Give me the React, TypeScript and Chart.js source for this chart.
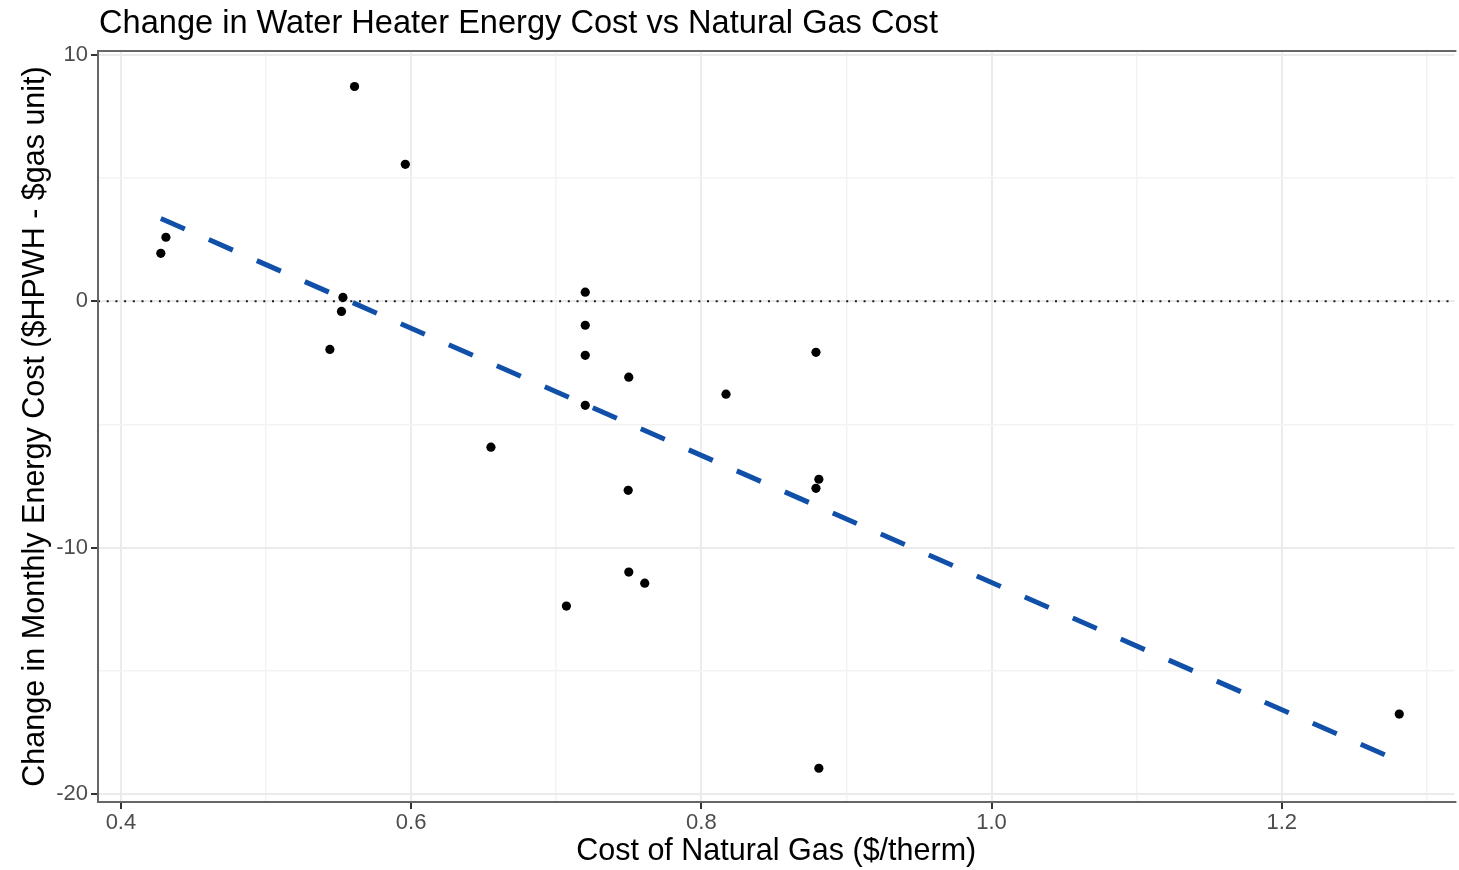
import React, { useEffect, useRef } from "react";
import { Chart, registerables } from "chart.js";

Chart.register(...registerables);

// Natural gas price ($/therm) and monthly cost change for each site
const gasCost = [
  0.4275, 0.431, 0.561, 0.596, 0.553, 0.552, 0.544, 0.655, 0.72, 0.72, 0.72, 0.72,
  0.75, 0.7496, 0.75, 0.761, 0.707, 0.817, 0.879, 0.881, 0.879, 0.881, 1.281,
];
const costChange = [
  1.95, 2.6, 8.72, 5.56, 0.16, -0.41, -1.95, -5.92, 0.37, -0.97, -2.19, -4.22,
  -3.08, -7.67, -10.99, -11.44, -12.37, -3.77, -2.07, -7.22, -7.59, -18.95, -16.75,
];

// Linear fit endpoints
const fitX = [0.4275, 1.281];
const fitY = [3.36, -18.66];

// Axis ticks and limits
const xMajorTicks = [0.4, 0.6, 0.8, 1.0, 1.2];
const xMinorTicks = [0.5, 0.7, 0.9, 1.1, 1.3];
const yMajorTicks = [-20, -10, 0, 10];
const yMinorTicks = [-15, -5, 5];
const xLimits = [0.3842, 1.319];
const yLimits = [-20.32, 10.16];
const referenceY = 0;

const TITLE = "Change in Water Heater Energy Cost vs Natural Gas Cost";
const X_TITLE = "Cost of Natural Gas ($/therm)";
const Y_TITLE = "Change in Monthly Energy Cost ($HPWH - $gas unit)";

const FONT = "'Liberation Sans', Arial, Helvetica, sans-serif";

const isMajor = (list: number[], v: number) => list.some((m) => Math.abs(m - v) < 1e-9);

const panelPlugin = {
  id: "panel",
  beforeDatasetsDraw(chart: any) {
    const { ctx, chartArea: a, scales } = chart;
    const py = scales.y.getPixelForValue(referenceY);
    ctx.save();
    ctx.beginPath();
    ctx.setLineDash([2, 6.7]);
    ctx.lineWidth = 2;
    ctx.strokeStyle = "#1a1a1a";
    ctx.moveTo(a.left, py);
    ctx.lineTo(a.right, py);
    ctx.stroke();
    ctx.restore();
  },
  afterDraw(chart: any) {
    const { ctx, chartArea: a } = chart;
    ctx.save();
    // panel border
    ctx.strokeStyle = "#666666";
    ctx.lineWidth = 2;
    ctx.beginPath();
    ctx.moveTo(a.right + 2, a.top);
    ctx.lineTo(a.left, a.top);
    ctx.lineTo(a.left, a.bottom);
    ctx.lineTo(a.right + 2, a.bottom);
    ctx.stroke();
    // plot title
    ctx.fillStyle = "#000000";
    ctx.font = `32.6px ${FONT}`;
    ctx.textAlign = "left";
    ctx.textBaseline = "alphabetic";
    ctx.fillText(TITLE, 99, 32.5);
    ctx.restore();
  },
};

export default function App() {
  const canvasRef = useRef<HTMLCanvasElement | null>(null);

  useEffect(() => {
    const canvas = canvasRef.current;
    if (!canvas) return;

    const points = gasCost.map((x, i) => ({ x, y: costChange[i] }));
    const fit = fitX.map((x, i) => ({ x, y: fitY[i] }));

    const gridColor = (major: number[]) => (c: any) =>
      isMajor(major, c.tick?.value) ? "#ebebeb" : "#f3f3f3";
    const gridWidth = (major: number[]) => (c: any) =>
      isMajor(major, c.tick?.value) ? 2 : 1.5;
    const tickColor = (major: number[]) => (c: any) =>
      isMajor(major, c.tick?.value) ? "#333333" : "rgba(0,0,0,0)";

    const chart = new Chart(canvas, {
      type: "scatter",
      data: {
        datasets: [
          {
            label: "fit",
            data: fit,
            showLine: true,
            borderColor: "#1150a8",
            borderWidth: 5,
            borderDash: [26.2, 26.2],
            borderCapStyle: "butt",
            pointRadius: 0,
            order: 0,
          } as any,
          {
            label: "sites",
            data: points,
            pointRadius: 4.6,
            pointHoverRadius: 4.6,
            backgroundColor: "#000000",
            borderWidth: 0,
            order: 1,
          },
        ],
      },
      options: {
        responsive: false,
        animation: false,
        devicePixelRatio: 1,
        layout: { padding: { top: 51, left: 0, right: 0, bottom: 0 } },
        plugins: {
          legend: { display: false },
          tooltip: { enabled: false },
          title: { display: false },
        },
        events: [],
        scales: {
          x: {
            type: "linear",
            min: xLimits[0],
            max: xLimits[1],
            afterBuildTicks: (scale: any) => {
              scale.ticks = [...xMajorTicks, ...xMinorTicks]
                .sort((p, q) => p - q)
                .map((value) => ({ value }));
            },
            afterFit: (scale: any) => {
              scale.height = 68;
            },
            border: { display: false },
            grid: {
              color: gridColor(xMajorTicks),
              lineWidth: gridWidth(xMajorTicks),
              tickColor: tickColor(xMajorTicks),
              tickWidth: 2,
              tickLength: 7,
              drawTicks: true,
            },
            ticks: {
              autoSkip: false,
              maxRotation: 0,
              padding: 1,
              color: "#4d4d4d",
              font: { family: FONT, size: 22 },
              callback: (v: any) => (isMajor(xMajorTicks, Number(v)) ? Number(v).toFixed(1) : ""),
            },
            title: {
              display: true,
              text: X_TITLE,
              color: "#000000",
              font: { family: FONT, size: 30.5 },
              padding: { top: 0, bottom: 0 },
            },
          },
          y: {
            type: "linear",
            min: yLimits[0],
            max: yLimits[1],
            afterBuildTicks: (scale: any) => {
              scale.ticks = [...yMajorTicks, ...yMinorTicks]
                .sort((p, q) => p - q)
                .map((value) => ({ value }));
            },
            afterFit: (scale: any) => {
              scale.width = 98;
            },
            border: { display: false },
            grid: {
              color: gridColor(yMajorTicks),
              lineWidth: gridWidth(yMajorTicks),
              tickColor: tickColor(yMajorTicks),
              tickWidth: 2,
              tickLength: 7,
              drawTicks: true,
            },
            ticks: {
              autoSkip: false,
              padding: 3,
              color: "#4d4d4d",
              font: { family: FONT, size: 22 },
              callback: (v: any) => (isMajor(yMajorTicks, Number(v)) ? String(v) : ""),
            },
            title: {
              display: true,
              text: Y_TITLE,
              color: "#000000",
              font: { family: FONT, size: 30.5 },
              padding: { top: 17, bottom: 0 },
            },
          },
        },
      },
      plugins: [panelPlugin],
    });

    return () => chart.destroy();
  }, []);

  return (
    <div
      style={{
        position: "fixed",
        left: 0,
        top: 0,
        width: 1459,
        height: 870,
        background: "#ffffff",
      }}
    >
      <canvas ref={canvasRef} width={1459} height={870} style={{ display: "block" }} />
    </div>
  );
}
